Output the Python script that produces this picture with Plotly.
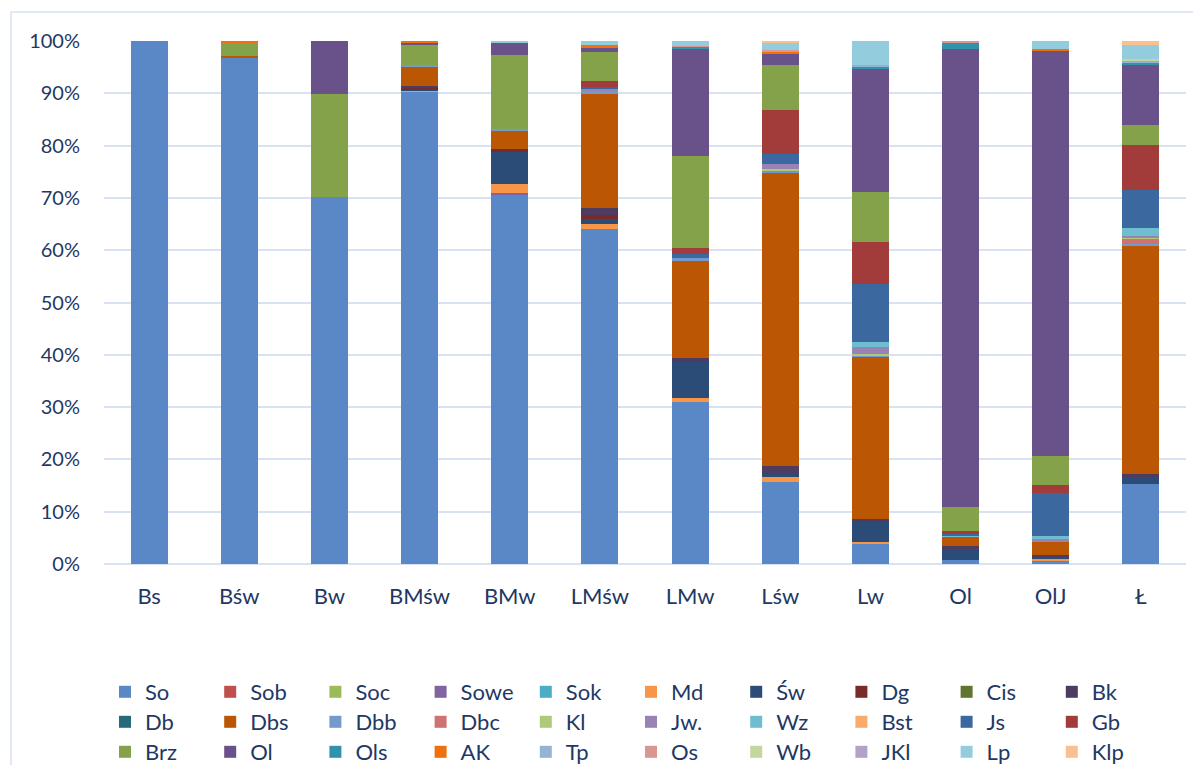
import plotly.graph_objects as go

categories = ["Bs", "Bśw", "Bw", "BMśw", "BMw", "LMśw", "LMw", "Lśw", "Lw", "Ol", "OlJ", "Ł"]

series_names = ["So", "Sob", "Soc", "Sowe", "Sok", "Md", "Św", "Dg", "Cis", "Bk",
                "Db", "Dbs", "Dbb", "Dbc", "Kl", "Jw.", "Wz", "Bst", "Js", "Gb",
                "Brz", "Ol", "Ols", "AK", "Tp", "Os", "Wb", "JKl", "Lp", "Klp"]

v_So   = [100, 96.9, 70.2, 90.3, 70.6, 64.1, 31.0, 15.7, 4.0, 0.8, 0.6, 15.3]
v_Sob  = [0] * 12
v_Soc  = [0] * 12
v_Sowe = [0, 0, 0, 0, 0.3, 0, 0, 0, 0, 0, 0, 0]
v_Sok  = [0] * 12
v_Md   = [0, 0, 0, 0.2, 1.8, 1.0, 0.7, 0.9, 0.2, 0, 0.3, 0]
v_Sw   = [0, 0, 0, 0.3, 6.1, 0.9, 6.9, 0.7, 3.9, 2.0, 0.6, 1.4]
v_Dg   = [0, 0, 0, 0.3, 0.5, 0.7, 0, 0, 0, 0, 0, 0]
v_Cis  = [0] * 12
v_Bk   = [0, 0, 0, 0.3, 0, 1.4, 0.8, 1.5, 0.5, 0.7, 0.3, 0.4]
v_Db   = [0] * 12
v_Dbs  = [0, 0.3, 0, 3.7, 3.4, 21.7, 18.6, 56.0, 31.1, 1.8, 2.4, 43.7]
v_Dbb  = [0, 0, 0, 0.3, 0.4, 0.6, 0.5, 0.3, 0.2, 0, 0, 0.3]
v_Dbc  = [0, 0, 0, 0, 0, 0, 0, 0.2, 0, 0, 0, 0.9]
v_Kl   = [0, 0, 0, 0, 0, 0, 0, 0.2, 0.3, 0, 0, 0.4]
v_Jw   = [0, 0, 0, 0, 0, 0.4, 0, 0.9, 1.3, 0, 0.6, 0.3]
v_Wz   = [0, 0, 0, 0, 0, 0, 0, 0, 0.9, 0.2, 0.5, 1.5]
v_Bst  = [0] * 12
v_Js   = [0, 0, 0, 0, 0, 0.4, 0.8, 2.0, 11.1, 0.3, 8.3, 7.3]
v_Gb   = [0, 0, 0, 0, 0, 1.2, 1.1, 8.4, 8.0, 0.5, 1.5, 8.6]
v_Brz  = [0, 2.5, 19.7, 3.8, 14.2, 5.5, 17.6, 8.6, 9.6, 4.6, 5.5, 3.8]
v_Ol   = [0, 0, 10.1, 0.4, 2.5, 0.8, 20.4, 2.1, 23.6, 87.6, 77.4, 11.6]
v_Ols  = [0, 0, 0, 0, 0, 0, 0.5, 0, 0.4, 1.2, 0, 0.3]
v_AK   = [0, 0.3, 0, 0.4, 0, 0.5, 0, 0.4, 0, 0, 0.4, 0]
v_Tp   = [0, 0, 0, 0, 0, 0, 0, 0.2, 0.2, 0, 0, 0.2]
v_Os   = [0, 0, 0, 0, 0, 0, 0.2, 0.2, 0.2, 0.3, 0, 0.2]
v_Wb   = [0, 0, 0, 0, 0, 0, 0, 0, 0, 0, 0, 0.2]
v_JKl  = [0] * 12
v_Lp   = [0, 0, 0, 0, 0.2, 0.8, 0.9, 1.3, 4.5, 0, 1.6, 2.8]
v_Klp  = [0, 0, 0, 0, 0, 0, 0, 0.4, 0, 0, 0, 0.7]

series_values = [v_So, v_Sob, v_Soc, v_Sowe, v_Sok, v_Md, v_Sw, v_Dg, v_Cis, v_Bk,
                 v_Db, v_Dbs, v_Dbb, v_Dbc, v_Kl, v_Jw, v_Wz, v_Bst, v_Js, v_Gb,
                 v_Brz, v_Ol, v_Ols, v_AK, v_Tp, v_Os, v_Wb, v_JKl, v_Lp, v_Klp]

colors = ["#5A87C5", "#C0504D", "#9BBB59", "#8064A2", "#4BACC6", "#F79646",
          "#2B4C76", "#772C2A", "#5F7530", "#4D3B62", "#276A7C", "#BA5604",
          "#729ACA", "#CD7371", "#AFC97A", "#9983B5", "#6FBDD1", "#F9AB6B",
          "#3A689F", "#A23C3A", "#84A24A", "#685289", "#3193AA", "#F2700A",
          "#95B3D7", "#D99694", "#C3D69B", "#B3A2C7", "#93CDDD", "#FAC090"]

tick_vals = [0, 10, 20, 30, 40, 50, 60, 70, 80, 90, 100]
tick_text = ["0%", "10%", "20%", "30%", "40%", "50%", "60%", "70%", "80%", "90%", "100%"]

W, H = 1201, 765
L, R, T, B = 96, 23, 33, 209
pw, ph = W - L - R, H - T - B
def px_x(x):
    return (x - L) / pw
def px_y(y):
    return (H - B - y) / ph

FONT = "Lato"
TXT = "#1F3864"

fig = go.Figure()
legend_ids = ["legend", "legend2", "legend3"]
for i, (name, vals, col) in enumerate(zip(series_names, series_values, colors)):
    fig.add_trace(go.Bar(
        name=name, x=categories, y=vals,
        marker=dict(color=col, line=dict(width=0)),
        legend=legend_ids[i // 10],
    ))

leg_common = dict(orientation="h", xanchor="left", yanchor="top",
                  font=dict(family=FONT, size=22, color=TXT),
                  entrywidth=60.2, entrywidthmode="pixels",
                  bgcolor="rgba(0,0,0,0)", traceorder="normal",
                  itemclick=False, itemdoubleclick=False)

fig.update_layout(
    width=W, height=H,
    margin=dict(l=L, r=R, t=T, b=B, autoexpand=False),
    barmode="stack", barnorm="percent", bargap=0.59,
    plot_bgcolor="white", paper_bgcolor="white",
    font=dict(family=FONT, size=20, color=TXT),
    xaxis=dict(showgrid=False, showline=False, ticks="", zeroline=False,
               tickfont=dict(family=FONT, size=22, color=TXT),
               ticklabelstandoff=17),
    yaxis=dict(range=[0, 100], tickvals=tick_vals, ticktext=tick_text,
               showgrid=True, gridcolor="#D9E2F3", gridwidth=1.5,
               zeroline=True, zerolinecolor="#D9E2F3", zerolinewidth=1.5,
               showline=False, ticks="",
               tickfont=dict(family=FONT, size=20, color=TXT),
               ticklabelstandoff=23),
    legend=dict(leg_common, x=px_x(97), y=px_y(663)),
    legend2=dict(leg_common, x=px_x(97), y=px_y(693)),
    legend3=dict(leg_common, x=px_x(97), y=px_y(723)),
    showlegend=True,
)

fig.add_shape(type="rect", xref="paper", yref="paper",
              x0=px_x(3), x1=px_x(1230), y0=px_y(800), y1=px_y(4),
              line=dict(color="#D9E2F3", width=1.5), fillcolor="rgba(0,0,0,0)",
              layer="below")

fig.write_html("out.html")
